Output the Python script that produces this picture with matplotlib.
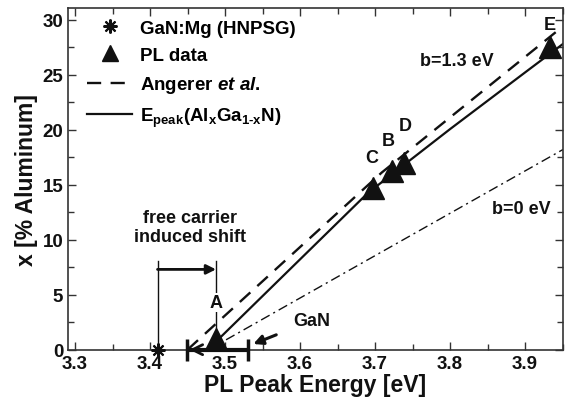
import matplotlib
matplotlib.use("Agg")
import matplotlib.pyplot as plt
from matplotlib.ticker import MultipleLocator
from matplotlib.lines import Line2D

plt.rcParams['font.family'] = ['Liberation Sans', 'DejaVu Sans']
plt.rcParams['font.weight'] = 'bold'
plt.rcParams['axes.labelweight'] = 'bold'
plt.rcParams['mathtext.fontset'] = 'custom'
plt.rcParams['mathtext.rm'] = 'Liberation Sans:bold'
plt.rcParams['mathtext.it'] = 'Liberation Sans:italic:bold'
plt.rcParams['mathtext.bf'] = 'Liberation Sans:bold'

# GaN:Mg reference sample
mg_energy = [3.41]
mg_x = [0.0]

# PL peak positions of samples A-E
pl_labels = ["A", "B", "C", "D", "E"]
pl_energy = [3.488, 3.722, 3.697, 3.739, 3.933]
pl_x = [1.0, 16.2, 14.7, 17.0, 27.5]

# Angerer et al. calibration curve
ang_energy = [3.45, 3.7089, 3.9507]
ang_x = [0.0, 16.1, 29.4]

# E_peak(AlxGa1-xN), b = 1.3 eV
epk_energy = [3.477, 3.689, 3.70, 3.80, 3.90, 3.9507]
epk_x = [0.0, 14.15, 14.75, 20.05, 25.2, 27.8]

# linear interpolation, b = 0 eV
lin_energy = [3.478, 3.9507]
lin_x = [0.0, 18.2]

# GaN band gap range
gan_center = 3.49
gan_halfwidth = 0.041

fig = plt.figure(figsize=(5.65, 4.06), dpi=100)
ax = fig.add_axes([0.1204, 0.1362, 0.8761, 0.8416])

ink = "#111111"

ax.plot(lin_energy, lin_x, color=ink, lw=1.0, dashes=(7, 3, 1.5, 3))
ax.plot(ang_energy, ang_x, color=ink, lw=1.7, dashes=(6, 4))
ax.plot(epk_energy, epk_x, color=ink, lw=1.6)

# GaN band-gap range bar
ax.errorbar([gan_center], [0.0], xerr=[gan_halfwidth], fmt="none", ecolor=ink,
            elinewidth=3.0, capsize=8, capthick=2.5, clip_on=False, zorder=4)
ax.annotate("", xy=(gan_center - gan_halfwidth, 0.0), xytext=(gan_center - 0.02, 0.0),
            arrowprops=dict(arrowstyle="->", color=ink, lw=2.0, mutation_scale=18),
            annotation_clip=False, zorder=4)

ax.plot(pl_energy, pl_x, linestyle="none", marker="^", color=ink, ms=15.5,
        clip_on=False, zorder=5)
ax.plot(mg_energy, mg_x, linestyle="none", marker=(8, 2, 0), color=ink, ms=10,
        mew=1.5, clip_on=False, zorder=5)

# sample letters
label_pos = {"A": (3.488, 4.3), "B": (3.718, 19.0), "C": (3.695, 17.5),
             "D": (3.740, 20.4), "E": (3.933, 29.6)}
for lab in pl_labels:
    lx, ly = label_pos[lab]
    bbox = dict(facecolor="white", edgecolor="none", pad=0.5) if lab == "A" else None
    ax.text(lx, ly, lab, ha="center", va="center", fontsize=13, color=ink,
            bbox=bbox, zorder=6)

# free carrier induced shift bracket
ax.plot([mg_energy[0], mg_energy[0]], [0.6, 8.1], color=ink, lw=1.0)
ax.plot([pl_energy[0], pl_energy[0]], [1.5, 8.1], color=ink, lw=1.0, zorder=3)
ax.annotate("", xy=(pl_energy[0], 7.3), xytext=(mg_energy[0], 7.3),
            arrowprops=dict(arrowstyle="-|>", color=ink, lw=2.0, mutation_scale=14,
                            shrinkA=0, shrinkB=0))
ax.text(3.4533, 11.15, "free carrier\ninduced shift", ha="center", va="center",
        fontsize=13, color=ink, linespacing=1.15)

ax.annotate("GaN", xy=(3.5377, 0.52), xytext=(3.6156, 2.64), ha="center", va="center",
            fontsize=13, color=ink,
            arrowprops=dict(arrowstyle="-|>", color=ink, lw=2.2, mutation_scale=14,
                            shrinkA=11, shrinkB=0))

ax.text(3.809, 26.3, "b=1.3 eV", ha="center", va="center", fontsize=13, color=ink)
ax.text(3.8956, 12.8, "b=0 eV", ha="center", va="center", fontsize=13, color=ink)

ax.xaxis.set_major_locator(MultipleLocator(0.1))
ax.xaxis.set_minor_locator(MultipleLocator(0.05))
ax.yaxis.set_major_locator(MultipleLocator(5))
ax.yaxis.set_minor_locator(MultipleLocator(2.5))
ax.xaxis.set_major_formatter(plt.FuncFormatter(lambda v, p: f"{v:.1f}"))
ax.set_xlim(3.29067, 3.95067)
ax.set_ylim(0, 31.06)
ax.tick_params(which="both", direction="in", top=True, right=True, colors="#333333",
               labelcolor=ink, labelsize=13.5, width=1.0)
ax.tick_params(which="major", length=6)
ax.tick_params(which="minor", length=4)
for s in ax.spines.values():
    s.set_color("#333333")
    s.set_linewidth(1.2)

ax.set_xlabel("PL Peak Energy [eV]", fontsize=16.5, color=ink, labelpad=1)
ax.set_ylabel("x [% Aluminum]", fontsize=16.5, color=ink, labelpad=3)

handles = [
    Line2D([], [], linestyle="none", marker=(8, 2, 0), color=ink, ms=10, mew=1.5),
    Line2D([], [], linestyle="none", marker="^", color=ink, ms=11),
    Line2D([], [], color=ink, lw=1.7, dashes=(6, 4)),
    Line2D([], [], color=ink, lw=1.6),
]
labels = ["GaN:Mg (HNPSG)", "PL data", r"Angerer $\it{et\ al.}$",
          r"E$_{\mathregular{peak}}$(Al$_{\mathregular{x}}$Ga$_{\mathregular{1\text{-}x}}$N)"]
ax.legend(handles, labels, loc="upper left", bbox_to_anchor=(0.012, 1.005), frameon=False,
          fontsize=13.5, handlelength=2.4, handletextpad=0.4, labelspacing=0.55,
          borderaxespad=0.3)

fig.savefig("out.png", dpi=100)
